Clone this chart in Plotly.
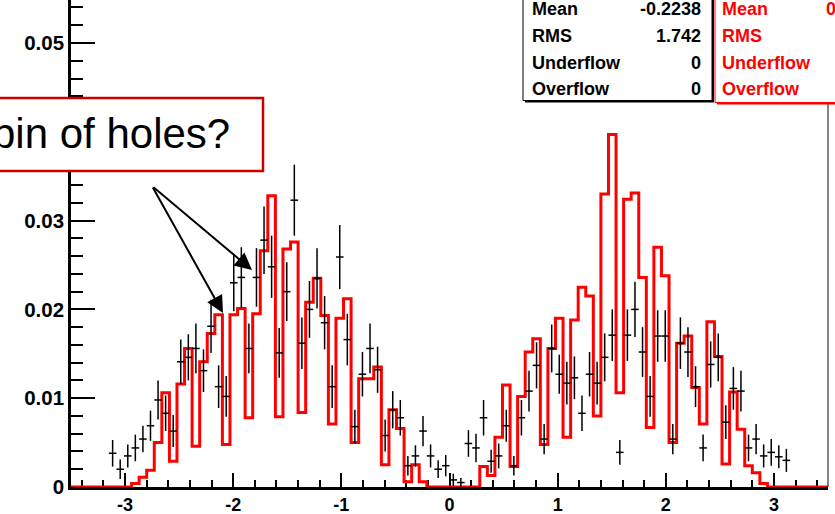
import plotly.graph_objects as go
import numpy as np

# ---------------- data ----------------
x_min, x_max, n_bins = -3.5, 3.5, 100

# red histogram (bin contents, 100 bins from -3.5 to 3.5)
red_hist = [0, 0, 0, 0, 0, 0, 0, 0,
            0.0004, 0.0011, 0.0019, 0.0050, 0.0106, 0.0029, 0.0116, 0.0156, 0.0046, 0.0141,
            0.0173, 0.0194, 0.0048, 0.0194, 0.0201, 0.0078, 0.0195, 0.0266, 0.0328, 0.0079,
            0.0268, 0.0276, 0.0084, 0.0208, 0.0235, 0.0193, 0.0071, 0.0190, 0.0212, 0.0050,
            0.0122, 0.0122, 0.0135, 0.0025, 0.0087, 0.0066, 0.0006, 0.0025, 0.0006,
            0, 0, 0, 0, 0, 0, 0,
            0.0023, 0.0013, 0.0056, 0.0115, 0.0023, 0.0102, 0.0152, 0.0167, 0.0048, 0.0156,
            0.0190, 0.0056, 0.0188, 0.0225, 0.0215, 0.0080, 0.0330, 0.0397, 0.0106, 0.0324,
            0.0331, 0.0236, 0.0067, 0.0270, 0.0238, 0.0050, 0.0162, 0.0170, 0.0112, 0.0071,
            0.0186, 0.0147, 0.0026, 0.0107, 0.0065, 0.0024, 0.0016, 0.0004,
            0, 0, 0, 0, 0, 0, 0, 0]

# black data points (None = empty bin)
data_vals = [None] * 5 + [
    0.0038, 0.0020, 0.0035, 0.0044, 0.0054, 0.0069, 0.0098, 0.0083, 0.0063, 0.0141,
    0.0146, 0.0156, 0.0131, 0.0181, 0.0113, 0.0102, 0.0230, 0.0236, 0.0156, 0.0236,
    0.0278, 0.0248, 0.0151, 0.0220, 0.0323, 0.0162, 0.0200, 0.0235, 0.0185, 0.0113,
    0.0259, 0.0166, 0.0068, 0.0127, 0.0156, 0.0132, 0.0058, 0.0087, 0.0078, 0.0024,
    0.0035, 0.0063, 0.0035, 0.0020, 0.0024, 0.0008, 0.0005, 0.0049, 0.0044, 0.0078,
    0.0029, 0.0035, 0.0069, 0.0024, 0.0078, 0.0108, 0.0137, 0.0054, 0.0156, 0.0127,
    0.0117, 0.0123, 0.0083, 0.0127, 0.0117, 0.0146, 0.0171, 0.0039, 0.0171, 0.0200,
    0.0152, 0.0102, 0.0170, 0.0170, 0.0054, 0.0162, 0.0152, 0.0113, 0.0044, 0.0138,
    0.0146, 0.0073, 0.0111, 0.0108, 0.0044, 0.0054, 0.0035, 0.0039, 0.0034, 0.0030,
] + [None] * 5

data_errs = [None] * 5 + [
    0.0015, 0.0011, 0.0013, 0.0015, 0.0015, 0.0017, 0.0022, 0.0020, 0.0018, 0.0025,
    0.0026, 0.0028, 0.0024, 0.0030, 0.0024, 0.0023, 0.0032, 0.0034, 0.0028, 0.0033,
    0.0038, 0.0035, 0.0028, 0.0033, 0.0040, 0.0029, 0.0032, 0.0034, 0.0030, 0.0024,
    0.0036, 0.0029, 0.0019, 0.0025, 0.0028, 0.0026, 0.0018, 0.0021, 0.0020, 0.0011,
    0.0012, 0.0017, 0.0013, 0.0010, 0.0012, 0.0007, 0.0005, 0.0015, 0.0016, 0.0020,
    0.0013, 0.0014, 0.0018, 0.0011, 0.0020, 0.0023, 0.0026, 0.0017, 0.0027, 0.0022,
    0.0024, 0.0024, 0.0020, 0.0025, 0.0024, 0.0027, 0.0029, 0.0014, 0.0029, 0.0031,
    0.0028, 0.0023, 0.0029, 0.0029, 0.0017, 0.0029, 0.0028, 0.0023, 0.0015, 0.0026,
    0.0027, 0.0019, 0.0024, 0.0023, 0.0015, 0.0017, 0.0013, 0.0015, 0.0013, 0.0013,
] + [None] * 5

x_tick_vals = [-3, -2, -1, 0, 1, 2, 3]
x_tick_text = ["-3", "-2", "-1", "0", "1", "2", "3"]
y_tick_vals = [0, 0.01, 0.02, 0.03, 0.04, 0.05]
y_tick_text = ["0", "0.01", "0.02", "0.03", "0.04", "0.05"]

stats_labels = ["Mean", "RMS", "Underflow", "Overflow"]
stats_black_values = ["-0.2238", "1.742", "0", "0"]
stats_red_values = ["0", "", "", ""]
note_text = "bin of holes?"

# ---------------- derived ----------------
edges = np.linspace(x_min, x_max, n_bins + 1)
centers = 0.5 * (edges[:-1] + edges[1:])
half_w = (x_max - x_min) / n_bins / 2
step_x = list(edges)
step_y = list(red_hist) + [red_hist[-1]]

pts = [(c, v, e) for c, v, e in zip(centers, data_vals, data_errs) if v is not None]
px_x = [p[0] for p in pts]
px_y = [p[1] for p in pts]
px_e = [p[2] for p in pts]

W, H = 835, 514
L, R, T, B = 71, 7, 0, 27
PW, PH = W - L - R, H - T - B


def fx(x):
    return (x - L) / PW


def fy(y):
    return (H - B - y) / PH


fig = go.Figure()

fig.add_trace(go.Scatter(
    x=step_x, y=step_y, mode="lines", line=dict(color="#ff0000", width=3, shape="hv"),
    hoverinfo="skip", showlegend=False))

fig.add_trace(go.Scatter(
    x=px_x, y=px_y, mode="markers", marker=dict(size=1, color="black"),
    error_y=dict(type="data", array=px_e, visible=True, color="black", thickness=1.5, width=0),
    error_x=dict(type="constant", value=half_w, visible=True, color="black", thickness=1.5, width=0),
    showlegend=False))

font_x = dict(family="Liberation Sans, Arial, sans-serif", color="black", size=18, weight="bold")
font_y = dict(family="Liberation Sans, Arial, sans-serif", color="black", size=20.5, weight="bold")

fig.update_xaxes(
    range=[x_min, x_max], showline=True, linecolor="black", linewidth=2.7, layer="below traces",
    tickmode="array", tickvals=x_tick_vals, ticktext=x_tick_text,
    ticks="inside", ticklen=14, tickwidth=1.5, tickcolor="black",
    minor=dict(ticks="inside", ticklen=7, dtick=0.2, tick0=0, tickwidth=1.5, tickcolor="black", showgrid=False),
    showgrid=False, zeroline=False, tickfont=font_x, mirror=False, automargin=False,
    ticklabelstandoff=0)
fig.update_yaxes(
    range=[0, PH / 8880.0], showline=True, linecolor="black", linewidth=2.7,
    tickmode="array", tickvals=y_tick_vals, ticktext=y_tick_text,
    ticks="inside", ticklen=24, tickwidth=1.5, tickcolor="black",
    minor=dict(ticks="inside", ticklen=12, dtick=0.002, tick0=0, tickwidth=1.5, tickcolor="black", showgrid=False),
    showgrid=False, zeroline=False, tickfont=font_y, mirror=False, automargin=False,
    ticklabelstandoff=0)

shapes = []
# right frame
shapes.append(dict(type="line", xref="paper", yref="paper", x0=1, x1=1, y0=0, y1=1,
                   line=dict(color="#333333", width=1.2)))
# black stats box with shadow
shapes.append(dict(type="rect", xref="paper", yref="paper", x0=fx(525), x1=fx(714), y0=fy(102.5), y1=fy(-10),
                   fillcolor="black", line=dict(width=0)))
shapes.append(dict(type="rect", xref="paper", yref="paper", x0=fx(523), x1=fx(712), y0=fy(100.5), y1=fy(-12),
                   fillcolor="white", line=dict(color="black", width=1)))
# red stats box with shadow
shapes.append(dict(type="rect", xref="paper", yref="paper", x0=fx(717), x1=fx(900), y0=fy(104.5), y1=fy(-10),
                   fillcolor="#ff0000", line=dict(width=0)))
shapes.append(dict(type="rect", xref="paper", yref="paper", x0=fx(715), x1=fx(898), y0=fy(102.5), y1=fy(-12),
                   fillcolor="white", line=dict(color="#ff0000", width=1)))
# note box
shapes.append(dict(type="rect", xref="paper", yref="paper", x0=fx(-30), x1=fx(263), y0=fy(171), y1=fy(98),
                   fillcolor="white", line=dict(color="#cc0000", width=2.5)))

annotations = []
row_y = [9, 36, 63, 89]
font_s = dict(family="Liberation Sans, Arial, sans-serif", size=18, weight="bold")
for lab, val, ry in zip(stats_labels, stats_black_values, row_y):
    annotations.append(dict(xref="paper", yref="paper", x=fx(530), y=fy(ry), text=lab, showarrow=False,
                            xanchor="left", yanchor="middle", font=dict(font_s, color="black")))
    annotations.append(dict(xref="paper", yref="paper", x=fx(703), y=fy(ry), text=val, showarrow=False,
                            xanchor="right", yanchor="middle", font=dict(font_s, color="black")))
for lab, val, ry in zip(stats_labels, stats_red_values, row_y):
    annotations.append(dict(xref="paper", yref="paper", x=fx(720), y=fy(ry), text=lab, showarrow=False,
                            xanchor="left", yanchor="middle", font=dict(font_s, color="#ff0000")))
    if val:
        annotations.append(dict(xref="paper", yref="paper", x=fx(824), y=fy(ry), text=val, showarrow=False,
                                xanchor="left", yanchor="middle", font=dict(font_s, color="#ff0000")))

annotations.append(dict(xref="paper", yref="paper", x=fx(232), y=fy(134), text=note_text, showarrow=False,
                        xanchor="right", yanchor="middle",
                        font=dict(family="Liberation Sans, Arial, sans-serif", size=42, color="black")))

# arrows
tail = (152, 186)
for tip in [(223, 313), (252, 270)]:
    annotations.append(dict(xref="paper", yref="paper", x=fx(tip[0]), y=fy(tip[1]), text="",
                            showarrow=True, axref="pixel", ayref="pixel",
                            ax=tail[0] - tip[0], ay=tail[1] - tip[1],
                            arrowhead=2, arrowsize=1.7, arrowwidth=2, arrowcolor="black"))

fig.update_layout(
    width=W, height=H, margin=dict(l=L, r=R, t=T, b=B, autoexpand=False),
    paper_bgcolor="white", plot_bgcolor="white",
    shapes=shapes, annotations=annotations, showlegend=False)

fig.write_html("out.html", config={"displayModeBar": False},
               post_script="document.body.style.margin='0px';")
